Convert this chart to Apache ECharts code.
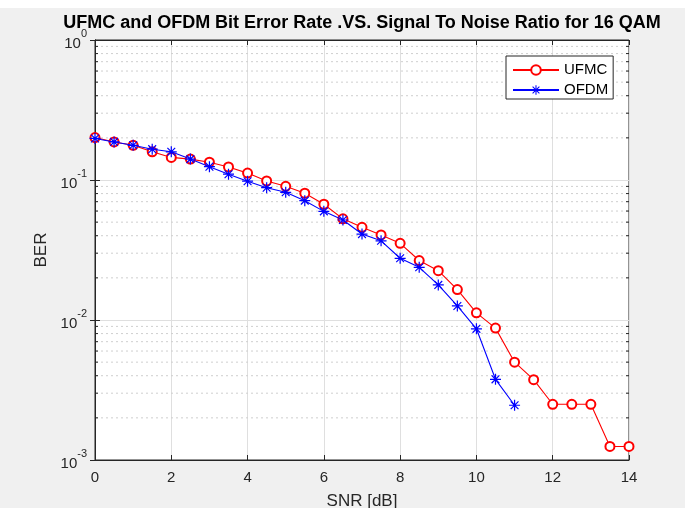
<!DOCTYPE html>
<html>
<head>
<meta charset="utf-8">
<script src="https://cdn.jsdelivr.net/npm/echarts@6/dist/echarts.min.js"></script>
<style>
html,body{margin:0;padding:0;background:#ffffff;overflow:hidden;}
#c{position:absolute;left:0;top:0;width:691px;height:508px;}
</style>
</head>
<body>
<div id="c"></div>
<script>
// ---- data ----
var snr = [0,0.5,1,1.5,2,2.5,3,3.5,4,4.5,5,5.5,6,6.5,7,7.5,8,8.5,9,9.5,10,10.5,11,11.5,12,12.5,13,13.5,14];
var ufmcBer = [0.201,0.187,0.177,0.159,0.145,0.141,0.134,0.124,0.112,0.0985,0.0902,0.0805,0.0671,0.0528,0.0459,0.0405,0.0353,0.0266,0.0225,0.0165,0.01125,0.00875,0.005,0.00375,0.0025,0.0025,0.0025,0.00125,0.00125];
var ofdmSnr = [0,0.5,1,1.5,2,2.5,3,3.5,4,4.5,5,5.5,6,6.5,7,7.5,8,8.5,9,9.5,10,10.5,11];
var ofdmBer = [0.198,0.187,0.177,0.166,0.159,0.141,0.1245,0.110,0.098,0.0881,0.0817,0.0712,0.0597,0.0518,0.0411,0.0368,0.0276,0.0238,0.0178,0.0126,0.00865,0.00377,0.00246];
var seriesNames = ['UFMC','OFDM'];
var xTicks = [0,2,4,6,8,10,12,14];
var titleText = 'UFMC and OFDM Bit Error Rate .VS. Signal To Noise Ratio for 16 QAM';
var xName = 'SNR [dB]';
var yName = 'BER';

// minor log gridline values (2..9 in each decade)
var minorVals = [];
[0.001,0.01,0.1].forEach(function(d){ for (var k=2;k<=9;k++) minorVals.push(+(k*d).toPrecision(3)); });

var axisCol = '#262626';
var font = 'Liberation Sans, Arial, sans-serif';
var asterisk = 'path://M-1,-0.11L1,-0.11L1,0.11L-1,0.11Z M-0.11,-1L0.11,-1L0.11,1L-0.11,1Z M-0.63,-0.785L0.785,0.63L0.63,0.785L-0.785,-0.63Z M-0.785,0.63L0.63,-0.785L0.785,-0.63L-0.63,0.785Z';

var chart = echarts.init(document.getElementById('c'), null, {renderer:'canvas'});
var labelRich = {
  b:{fontSize:15, fontFamily:font, color:axisCol, lineHeight:23, verticalAlign:'bottom'},
  s:{fontSize:11, fontFamily:font, color:axisCol, verticalAlign:'top'}
};
function expFmt(v){ var e = Math.round(Math.log10(v)); return '{b|10}{s|' + e + '}'; }

chart.setOption({
  backgroundColor:'#f0f0f0',
  animation:false,
  graphic:[
    {type:'rect', silent:true, z:-10, shape:{x:0, y:0, width:691, height:8}, style:{fill:'#ffffff'}},
    {type:'rect', silent:true, z:-10, shape:{x:685, y:0, width:6, height:508}, style:{fill:'#ffffff'}}
  ],
  title:{
    text:titleText, left:362, top:14, textAlign:'center', padding:0,
    textStyle:{fontFamily:font, fontWeight:'bold', fontSize:18, color:'#000'}
  },
  legend:{
    data:seriesNames, orient:'vertical', left:506, top:56,
    padding:[6,5,1,6], itemGap:4, itemWidth:46, itemHeight:12,
    backgroundColor:'#fff', borderColor:axisCol, borderWidth:1, borderRadius:0,
    textStyle:{fontFamily:font, fontSize:15, lineHeight:16, color:'#000'}
  },
  grid:{left:95, right:62, top:40, bottom:48, outerBoundsMode:'none', containLabel:false,
    show:true, backgroundColor:'#fff', borderColor:axisCol, borderWidth:1},
  xAxis:[{
    type:'value', min:0, max:14, interval:2, position:'bottom',
    name:xName, nameLocation:'middle', nameGap:33,
    nameTextStyle:{fontFamily:font, fontSize:17, color:axisCol},
    axisLine:{show:true, lineStyle:{color:axisCol, width:1}},
    axisTick:{show:true, inside:true, length:5, lineStyle:{color:axisCol}},
    axisLabel:{fontFamily:font, fontSize:15, color:axisCol, margin:10,
      formatter:function(v){ return xTicks.indexOf(v) >= 0 ? String(v) : ''; }},
    splitLine:{show:true, lineStyle:{color:'#dfdfdf', width:1}}
  },{
    type:'value', min:0, max:14, interval:2, position:'top',
    axisLine:{show:true, lineStyle:{color:axisCol}},
    axisTick:{show:true, inside:true, length:5, lineStyle:{color:axisCol}},
    axisLabel:{show:false}, splitLine:{show:false}
  }],
  yAxis:[{
    type:'log', logBase:10, min:0.001, max:1, position:'left',
    name:yName, nameLocation:'middle', nameGap:45,
    nameTextStyle:{fontFamily:font, fontSize:17, color:axisCol},
    axisLine:{show:true, lineStyle:{color:axisCol}},
    axisTick:{show:true, inside:true, length:5, lineStyle:{color:axisCol}},
    axisLabel:{margin:8, formatter:expFmt, rich:labelRich},
    splitLine:{show:true, lineStyle:{color:'#dfdfdf', width:1}}
  },{
    type:'log', logBase:10, min:0.001, max:1, position:'right',
    axisLine:{show:true, lineStyle:{color:axisCol}},
    axisTick:{show:true, inside:true, length:5, lineStyle:{color:axisCol}},
    axisLabel:{show:false}, splitLine:{show:false}
  }],
  series:[{
    name:'minor', type:'custom', silent:true, z:1,
    xAxisIndex:0, yAxisIndex:0,
    data: minorVals.map(function(v){ return [0, v]; }),
    encode:{x:0, y:1},
    renderItem:function(params, api){
      var v = api.value(1);
      var p0 = api.coord([0, v]);
      var p1 = api.coord([14, v]);
      return {type:'group', children:[
        {type:'line', shape:{x1:p0[0]+1, y1:p0[1], x2:p1[0]-1, y2:p1[1]},
          style:{stroke:'#cfcfcf', lineWidth:1, lineDash:[2,3]}},
        {type:'line', shape:{x1:p0[0], y1:p0[1], x2:p0[0]+3, y2:p0[1]},
          style:{stroke:axisCol, lineWidth:1}},
        {type:'line', shape:{x1:p1[0]-3, y1:p1[1], x2:p1[0], y2:p1[1]},
          style:{stroke:axisCol, lineWidth:1}}
      ]};
    }
  },{
    name:seriesNames[0], type:'line', z:3,
    data: snr.map(function(x,i){ return [x, ufmcBer[i]]; }),
    symbol:'emptyCircle', symbolSize:9,
    lineStyle:{color:'#ff0000', width:1.1},
    itemStyle:{color:'#ff0000', borderWidth:1.1}
  },{
    name:seriesNames[1], type:'line', z:4,
    data: ofdmSnr.map(function(x,i){ return [x, ofdmBer[i]]; }),
    symbol:asterisk, symbolSize:11,
    lineStyle:{color:'#0000ff', width:1.1},
    itemStyle:{color:'#0000ff'}
  }]
});
</script>
</body>
</html>
